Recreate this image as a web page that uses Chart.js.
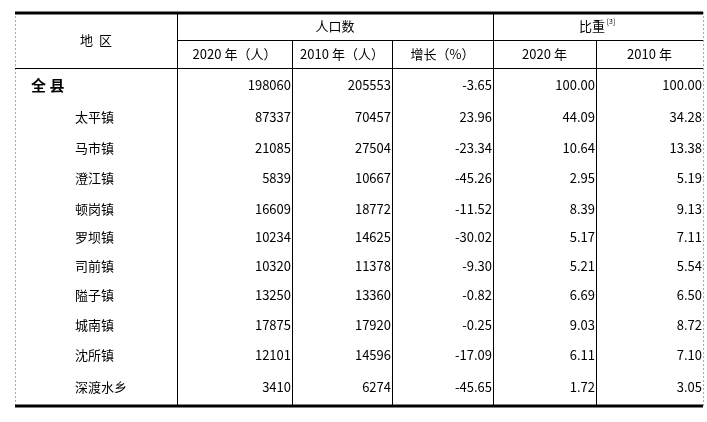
<!DOCTYPE html>
<html>
<head>
<meta charset="utf-8">
<script src="https://cdn.jsdelivr.net/npm/chart.js@4"></script>
<style>
  html, body { margin: 0; padding: 0; background: #fff; }
  #wrap { width: 707px; height: 422px; }
</style>
</head>
<body>
<div id="wrap"><canvas id="tbl"></canvas></div>
<script>
// Table data
const regions = ['全 县', '太平镇', '马市镇', '澄江镇', '顿岗镇', '罗坝镇', '司前镇', '隘子镇', '城南镇', '沈所镇', '深渡水乡'];
const pop2020 = ['198060', '87337', '21085', '5839', '16609', '10234', '10320', '13250', '17875', '12101', '3410'];
const pop2010 = ['205553', '70457', '27504', '10667', '18772', '14625', '11378', '13360', '17920', '14596', '6274'];
const growth = ['-3.65', '23.96', '-23.34', '-45.26', '-11.52', '-30.02', '-9.30', '-0.82', '-0.25', '-17.09', '-45.65'];
const share2020 = ['100.00', '44.09', '10.64', '2.95', '8.39', '5.17', '5.21', '6.69', '9.03', '6.11', '1.72'];
const share2010 = ['100.00', '34.28', '13.38', '5.19', '9.13', '7.11', '5.54', '6.50', '8.72', '7.10', '3.05'];
const columns = [pop2020, pop2010, growth, share2020, share2010];
const subHeaders = ['2020 年（人）', '2010 年（人）', '增长（%）', '2020 年', '2010 年'];

// column edges in x units, row centres in y units
const colEdges = [15, 177, 292, 392, 493, 596, 703];
const rowY = [85, 117, 148, 178, 209, 237, 266, 295, 325, 355, 387];

const FONT = '"Noto Sans CJK SC", sans-serif';

const tablePlugin = {
  id: 'tablePlugin',
  afterDraw(chart) {
    const c = chart.ctx;
    const X = v => chart.scales.x.getPixelForValue(v);
    const Y = v => chart.scales.y.getPixelForValue(v);
    c.save();

    // dashed outer guides
    c.setLineDash([2, 2]);
    c.strokeStyle = '#aaa';
    c.lineWidth = 1;
    c.beginPath();
    c.moveTo(X(15) + 0.5, Y(12)); c.lineTo(X(15) + 0.5, Y(407));
    c.moveTo(X(703) + 0.5, Y(12)); c.lineTo(X(703) + 0.5, Y(407));
    c.stroke();
    c.setLineDash([]);

    // thick top & bottom
    c.strokeStyle = '#000';
    c.lineWidth = 3;
    c.beginPath();
    c.moveTo(X(15), Y(13)); c.lineTo(X(703), Y(13));
    c.moveTo(X(15), Y(406)); c.lineTo(X(703), Y(406));
    c.stroke();

    // thin lines
    c.lineWidth = 1;
    c.beginPath();
    c.moveTo(X(15), Y(68.5)); c.lineTo(X(703), Y(68.5));
    c.moveTo(X(177), Y(40.5)); c.lineTo(X(703), Y(40.5));
    [177, 493].forEach(e => { c.moveTo(X(e) + 0.5, Y(14)); c.lineTo(X(e) + 0.5, Y(405)); });
    [292, 392, 596].forEach(e => { c.moveTo(X(e) + 0.5, Y(41)); c.lineTo(X(e) + 0.5, Y(405)); });
    c.stroke();

    // headers
    c.fillStyle = '#000';
    c.textBaseline = 'middle';
    c.textAlign = 'center';
    c.font = '13px ' + FONT;
    c.fillText('地  区', X(96), Y(40));
    c.fillText('人口数', X(335), Y(26));
    c.fillText('比重', X(592), Y(26));
    c.font = '7px ' + FONT;
    c.fillText('[3]', X(611), Y(21));
    c.font = '13px ' + FONT;
    subHeaders.forEach((h, i) => {
      c.fillText(h, X((colEdges[i + 1] + colEdges[i + 2]) / 2), Y(54));
    });

    // body
    regions.forEach((r, i) => {
      c.textAlign = 'left';
      if (i === 0) {
        c.font = 'bold 15px ' + FONT;
        c.fillText(r, X(31), Y(rowY[i]));
      } else {
        c.font = '13px ' + FONT;
        c.fillText(r, X(75), Y(rowY[i]));
      }
      c.font = '13px ' + FONT;
      c.textAlign = 'right';
      columns.forEach((col, j) => {
        c.fillText(col[i], X(colEdges[j + 2] - 1), Y(rowY[i]));
      });
    });
    c.restore();
  }
};

new Chart(document.getElementById('tbl'), {
  type: 'scatter',
  data: { datasets: [{ data: [], pointRadius: 0 }] },
  options: {
    responsive: true,
    maintainAspectRatio: false,
    animation: false,
    layout: { padding: 0 },
    plugins: { legend: { display: false }, tooltip: { enabled: false } },
    scales: {
      x: { type: 'linear', min: 0, max: 707, display: false },
      y: { type: 'linear', min: 0, max: 422, reverse: true, display: false }
    }
  },
  plugins: [tablePlugin]
});
</script>
</body>
</html>
